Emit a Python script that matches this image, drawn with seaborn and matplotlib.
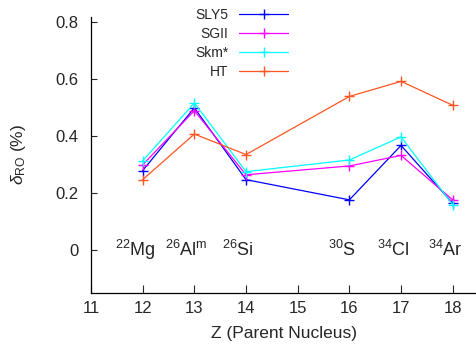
import matplotlib
matplotlib.use("Agg")
import matplotlib.pyplot as plt
import seaborn as sns
import pandas as pd

# ---- data ----
Z = [12, 13, 14, 16, 17, 18]
nuclei = [r"$^{22}$Mg", r"$^{26}$Al$^{\mathrm{m}}$", r"$^{26}$Si", r"$^{30}$S", r"$^{34}$Cl", r"$^{34}$Ar"]
sly5 = [0.280, 0.500, 0.248, 0.177, 0.368, 0.165]
sgii = [0.300, 0.490, 0.265, 0.296, 0.333, 0.177]
skm = [0.314, 0.517, 0.276, 0.317, 0.398, 0.160]
ht = [0.248, 0.408, 0.336, 0.540, 0.593, 0.509]
series_names = ["SLY5", "SGII", "Skm*", "HT"]
colors = ["#0000ff", "#ff00ff", "#00ffff", "#ff5522"]
xticks = [11, 12, 13, 14, 15, 16, 17, 18]
yticks = [0, 0.2, 0.4, 0.6, 0.8]

sns.set_theme(style="ticks")
plt.rcParams["font.family"] = ["Liberation Sans", "DejaVu Sans"]
plt.rcParams["mathtext.fontset"] = "custom"
plt.rcParams["mathtext.rm"] = "Liberation Sans"
plt.rcParams["mathtext.it"] = "Liberation Sans:italic"
plt.rcParams["mathtext.bf"] = "Liberation Sans:bold"

fig = plt.figure(figsize=(4.77, 3.46), dpi=100)
ax = fig.add_axes([91 / 477, 53 / 346, 1 - 91 / 477, (293 - 16.7) / 346])

frames = []
for name, vals in zip(series_names, [sly5, sgii, skm, ht]):
    frames.append(pd.DataFrame({"Z": Z, "val": vals, "model": name}))
df = pd.concat(frames, ignore_index=True)

for name, col in zip(series_names, colors):
    sub = df[df["model"] == name]
    sns.lineplot(data=sub, x="Z", y="val", ax=ax, color=col, lw=0.9,
                 marker="+", markersize=7, markeredgewidth=1.0,
                 markeredgecolor=col, label=name)

for z, lab in zip(Z, nuclei):
    ax.text(z - 0.15, 0.0, lab, ha="center", va="center", fontsize=13)

ax.set_xlim(11, 18.47)
ax.set_ylim(-0.15, 0.82)
ax.set_xticks(xticks)
ax.set_yticks(yticks)
ax.set_yticklabels(["0", "0.2", "0.4", "0.6", "0.8"])
ax.tick_params(axis="x", direction="in", length=6, width=0.8, labelsize=12, pad=6)
ax.tick_params(axis="y", direction="in", length=4, width=0.8, labelsize=12, pad=9)
for s in ["top", "right"]:
    ax.spines[s].set_visible(False)
for s in ["left", "bottom"]:
    ax.spines[s].set_linewidth(0.9)
    ax.spines[s].set_color("black")

ax.set_xlabel("Z (Parent Nucleus)", fontsize=12.5, labelpad=7)
ax.set_ylabel(r"$\delta_{\rm RO}$ (%)", fontsize=12.5, labelpad=20)

leg = ax.legend(loc="upper right", bbox_to_anchor=(288 / 477, 1 - 8 / 346),
                bbox_transform=fig.transFigure, frameon=False, markerfirst=False,
                fontsize=10, handlelength=3.5, handletextpad=0.8, labelspacing=0.36,
                borderpad=0, borderaxespad=0)

fig.savefig("out.png", dpi=100)
